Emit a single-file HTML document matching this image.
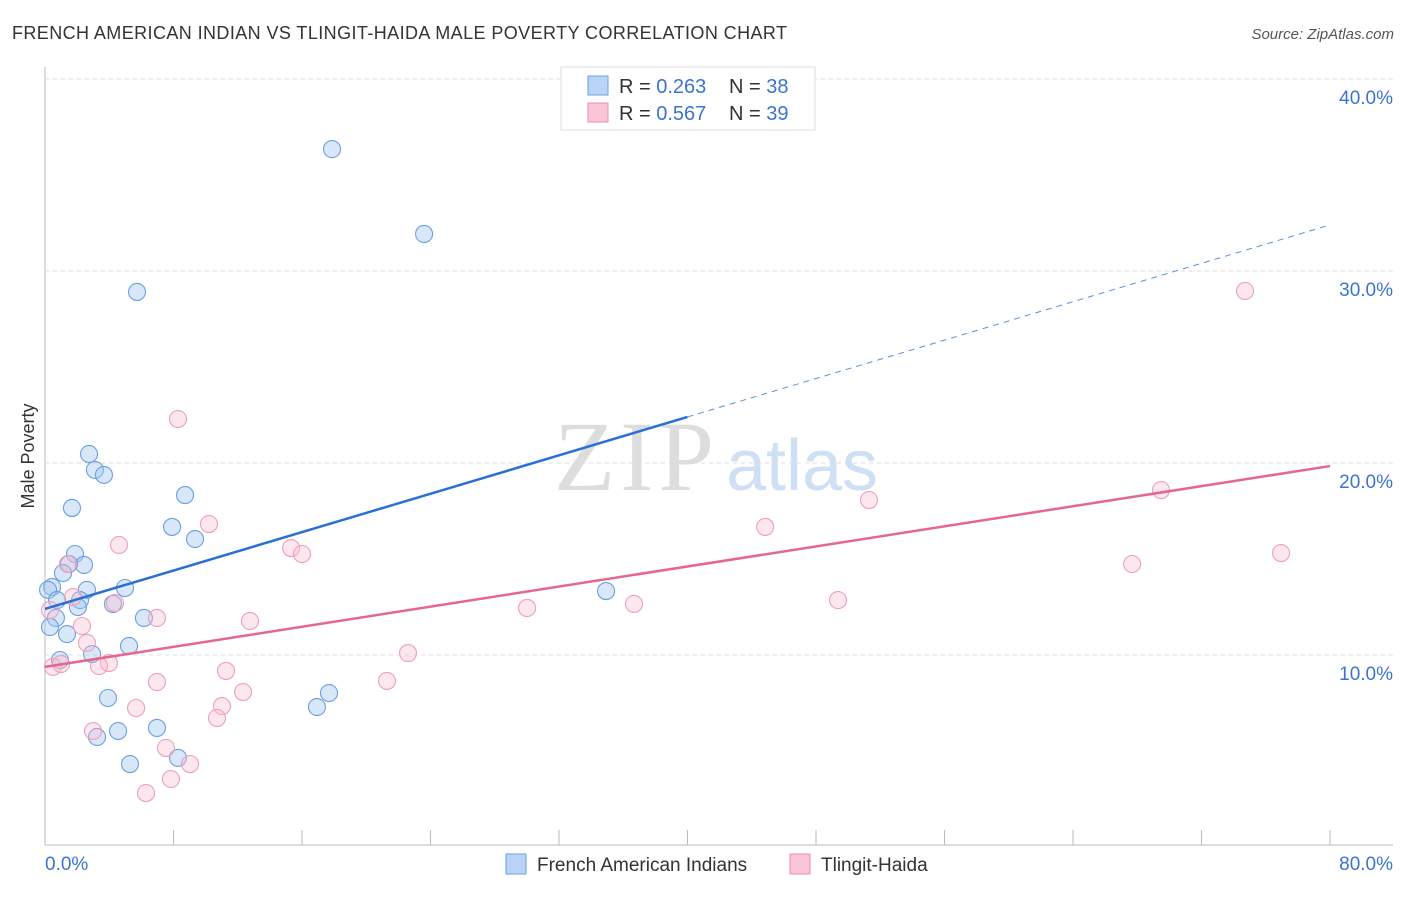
<!DOCTYPE html>
<html><head><meta charset="utf-8"><style>
body{margin:0;background:#fff;font-family:"Liberation Sans",sans-serif}
svg text{font-family:"Liberation Sans",sans-serif}
</style></head><body>
<svg id="c" width="1406" height="892" xmlns="http://www.w3.org/2000/svg">
<text x="12" y="39" font-size="18" fill="#333" textLength="775">FRENCH AMERICAN INDIAN VS TLINGIT-HAIDA MALE POVERTY CORRELATION CHART</text>
<text x="1394" y="39" font-size="15" fill="#555" font-style="italic" text-anchor="end">Source: ZipAtlas.com</text>
<text x="34" y="456" font-size="18" fill="#333" transform="rotate(-90 34 456)" text-anchor="middle">Male Poverty</text>
<text x="634" y="490" font-size="100" fill="#ddd" text-anchor="middle" textLength="160" style="font-family:'Liberation Serif',serif">ZIP</text>
<text x="802" y="490" font-size="72" fill="#cfe0f5" text-anchor="middle">atlas</text>
<g id="grid"></g><g id="marks"></g>
<g>
<rect x="561" y="67" width="254" height="63" fill="#fff" stroke="#ddd"/>
<rect x="588" y="76" width="20" height="19" fill="#b9d4f5" stroke="#6a9fe0"/>
<rect x="588" y="103" width="20" height="19" fill="#f9c6d6" stroke="#ea8fae"/>
<text x="619" y="93" font-size="20" fill="#333">R = <tspan fill="#3b74d0">0.263</tspan></text>
<text x="729" y="93" font-size="20" fill="#333">N = <tspan fill="#3b74d0">38</tspan></text>
<text x="619" y="120" font-size="20" fill="#333">R = <tspan fill="#3b74d0">0.567</tspan></text>
<text x="729" y="120" font-size="20" fill="#333">N = <tspan fill="#3b74d0">39</tspan></text>
</g>
<g>
<rect x="506" y="854" width="20" height="20" fill="#b9d4f5" stroke="#6a9fe0"/>
<text x="537" y="871" font-size="19" fill="#333">French American Indians</text>
<rect x="790" y="854" width="20" height="20" fill="#f9c6d6" stroke="#ea8fae"/>
<text x="821" y="871" font-size="19" fill="#333">Tlingit-Haida</text>
</g>
</svg>
<script>
const yTicks=[10,20,30,40];
const yTickLabels=["10.0%","20.0%","30.0%","40.0%"];
const xTicks=[0,8,16,24,32,40,48,56,64,72,80];
const blueX=[17.87,23.60,5.73,2.74,3.11,3.67,1.68,8.72,7.91,9.34,1.87,2.43,1.49,1.12,2.61,4.98,0.44,0.19,0.75,2.18,2.05,4.23,6.16,0.68,0.31,1.37,5.23,2.93,0.93,3.92,4.55,6.97,3.24,5.29,8.28,16.93,17.68,34.93];
const blueY=[36.35,31.93,28.91,20.47,19.64,19.38,17.66,18.33,16.67,16.04,15.26,14.69,14.74,14.27,13.39,13.49,13.54,13.39,12.86,12.86,12.50,12.66,11.93,11.93,11.46,11.09,10.47,10.05,9.74,7.76,6.04,6.20,5.73,4.32,4.64,7.29,8.02,13.33];
const pinkX=[74.71,8.28,69.48,51.30,10.21,44.83,4.61,15.32,16.00,1.43,67.68,76.95,1.74,4.36,36.67,30.01,6.97,49.37,12.76,2.30,2.61,22.60,3.98,3.36,0.50,1.00,11.27,21.29,6.97,12.33,11.02,5.67,10.71,2.99,7.53,9.03,7.84,6.29,0.31];
const pinkY=[28.96,22.29,18.59,18.07,16.82,16.67,15.73,15.57,15.26,14.74,14.74,15.31,13.02,12.71,12.66,12.45,11.93,12.86,11.77,11.51,10.63,10.10,9.58,9.43,9.38,9.53,9.17,8.65,8.59,8.07,7.34,7.24,6.72,6.04,5.16,4.32,3.54,2.81,12.34];
const blueTrend=[12.4,22.4,32.4];
const pinkTrend=[9.38,19.84];
const NS="http://www.w3.org/2000/svg";
const X=v=>45+v/80*1285, Y=v=>847-v*19.2;
function mk(t,a,p){const e=document.createElementNS(NS,t);for(const k in a)e.setAttribute(k,a[k]);p.appendChild(e);return e;}
const g=document.getElementById('grid'), m=document.getElementById('marks');
mk('line',{x1:45,y1:67,x2:45,y2:845,stroke:'#bbb'},g);
mk('line',{x1:45,y1:845,x2:1393,y2:845,stroke:'#bbb'},g);
yTicks.forEach((t,i)=>{
 const l=mk('line',{x1:45,y1:Y(t),x2:1393,y2:Y(t),stroke:'#ddd','stroke-dasharray':'4 4'},g);
 
 
 const tx=mk('text',{x:1393,y:Y(t)+25,'font-size':19,fill:'#3b74d0','text-anchor':'end'},g);tx.textContent=yTickLabels[i];
 
 
});
xTicks.forEach(t=>{const l=mk('line',{x1:X(t),y1:830,x2:X(t),y2:845,stroke:'#bbb'},g);
 
 });
[[0,"0.0%",'start',45],[80,"80.0%",'end',1393]].forEach(a=>{const tx=mk('text',{x:a[3],y:870,'font-size':19,fill:'#3b74d0','text-anchor':a[2]},g);tx.textContent=a[1];
 
 });
blueX.forEach((v,i)=>{const c=mk('circle',{cx:X(v),cy:Y(blueY[i]),r:8.5,fill:'rgba(160,197,240,0.4)',stroke:'#6a9fe0','stroke-width':1.1},m);
 
 });
pinkX.forEach((v,i)=>{const c=mk('circle',{cx:X(v),cy:Y(pinkY[i]),r:8.5,fill:'rgba(248,185,205,0.35)',stroke:'#ee9fba','stroke-width':1.1},m);
 
 });
const b1=mk('line',{x1:X(0),y1:Y(blueTrend[0]),x2:X(40),y2:Y(blueTrend[1]),stroke:'#2a6fd6','stroke-width':2.5},m);


const b2=mk('line',{x1:X(40),y1:Y(blueTrend[1]),x2:X(80),y2:Y(blueTrend[2]),stroke:'#5b8fdc','stroke-width':1,'stroke-dasharray':'6 5'},m);


const p1=mk('line',{x1:X(0),y1:Y(pinkTrend[0]),x2:X(80),y2:Y(pinkTrend[1]),stroke:'#e5678f','stroke-width':2.5},m);


</script>
</body></html>
